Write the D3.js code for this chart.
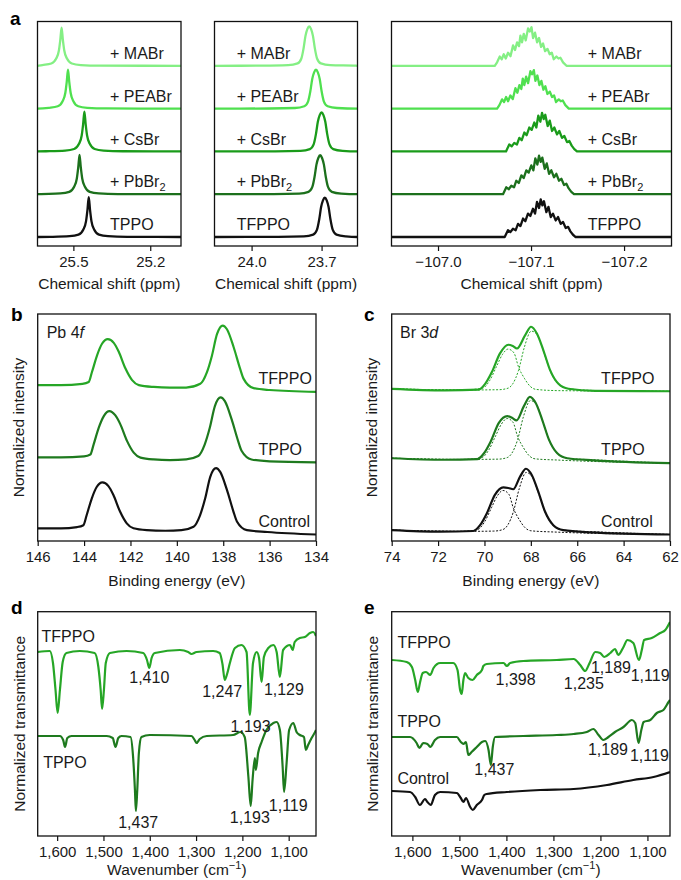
<!DOCTYPE html>
<html>
<head>
<meta charset="utf-8">
<script src="https://cdn.jsdelivr.net/npm/d3@7"></script>
<style>
  body { margin: 0; background: #fff; }
  svg { display: block; }
</style>
</head>
<body>
<script>
// ---------------- data ----------------

// panel a - NMR, traces listed bottom -> top
const aLabelsP = ["TPPO", "+ PbBr2", "+ CsBr", "+ PEABr", "+ MABr"];
const aLabelsF = ["TFPPO", "+ PbBr2", "+ CsBr", "+ PEABr", "+ MABr"];
const aColors = ["#111111", "#1c701c", "#1a9b1a", "#4fe04f", "#84ef84"];

const pShift = [25.440, 25.476, 25.457, 25.521, 25.546];
const pHeight = [0.93, 0.92, 0.93, 0.91, 0.89];
const fShift = [23.686, 23.706, 23.700, 23.724, 23.753];
const fHeight = [0.92, 0.91, 0.91, 0.91, 0.92];
const fluorShift = [-107.1104, -107.1086, -107.1118, -107.1022, -107.0997];
const fluorHeight = [0.88, 0.90, 0.90, 0.90, 0.90];
const fluorPattern = ["B", "B", "B", "A", "A"];

// line shapes: [offset (ppm), relative intensity]
const pLine = [[0.15, 0.004], [0.075, 0.02], [0.04, 0.06], [0.021, 0.19], [0.0105, 0.4], [0.005, 0.68], [0, 1],
  [-0.005, 0.68], [-0.0105, 0.4], [-0.021, 0.19], [-0.04, 0.06], [-0.075, 0.02], [-0.15, 0.004]];
const fLine = [[0.2, 0.003], [0.09, 0.015], [0.05, 0.06], [0.034, 0.18], [0.024, 0.45], [0.016, 0.76], [0.008, 0.93], [0, 1],
  [-0.008, 0.93], [-0.016, 0.76], [-0.024, 0.45], [-0.034, 0.18], [-0.05, 0.06], [-0.09, 0.015], [-0.2, 0.003]];
const multA = [[0.0387, 0], [0.0362, 0.09], [0.0333, 0.24], [0.0312, 0.17], [0.0290, 0.30], [0.0269, 0.19], [0.0244, 0.34],
  [0.0218, 0.25], [0.0190, 0.53], [0.0169, 0.41], [0.0147, 0.61], [0.0126, 0.51], [0.0111, 0.78], [0.0094, 0.61],
  [0.0075, 0.83], [0.0054, 0.66], [0.0029, 0.97], [0.0011, 0.89], [-0.0008, 1.0], [-0.0025, 0.72], [-0.0046, 0.86],
  [-0.0068, 0.61], [-0.0089, 0.72], [-0.0111, 0.49], [-0.0132, 0.58], [-0.0154, 0.38], [-0.0180, 0.44], [-0.0204, 0.30],
  [-0.0226, 0.34], [-0.0247, 0.17], [-0.0276, 0.24], [-0.0298, 0.19], [-0.0319, 0.21], [-0.0347, 0.09], [-0.0384, 0]];
const multB = [[0.0387, 0], [0.0352, 0.18], [0.0326, 0.13], [0.0298, 0.22], [0.0269, 0.18], [0.0244, 0.35], [0.0218, 0.29],
  [0.0190, 0.49], [0.0165, 0.42], [0.0137, 0.62], [0.0111, 0.56], [0.0083, 0.75], [0.0061, 0.62], [0.0040, 0.93],
  [0.0018, 0.77], [0, 1], [-0.0018, 0.84], [-0.0035, 0.95], [-0.0061, 0.66], [-0.0083, 0.80], [-0.0108, 0.53],
  [-0.0132, 0.62], [-0.0161, 0.44], [-0.0186, 0.53], [-0.0215, 0.35], [-0.0240, 0.40], [-0.0269, 0.24], [-0.0294, 0.27],
  [-0.0319, 0.15], [-0.0347, 0.06], [-0.0376, 0]];

// panel b - Pb 4f XPS [eV, normalized intensity + offset]
const pbControl = [[146, 0.06], [145, 0.06], [144.3, 0.08], [144.03, 0.11], [143.89, 0.27], [143.67, 0.54], [143.45, 0.73],
  [143.21, 0.80], [142.95, 0.74], [142.74, 0.60], [142.45, 0.33], [142.16, 0.14], [141.87, 0.06], [141.3, 0.03],
  [140.5, 0.02], [139.8, 0.03], [139.28, 0.085], [139.0, 0.27], [138.78, 0.54], [138.56, 0.89], [138.31, 1.03],
  [138.13, 0.97], [137.84, 0.68], [137.56, 0.33], [137.41, 0.17], [136.98, 0.03], [136.1, 0.0], [134, -0.04]];
const pbTPPO = [[146, 1.205], [145, 1.205], [144.0, 1.22], [143.73, 1.25], [143.59, 1.41], [143.37, 1.68], [143.15, 1.87],
  [142.91, 1.95], [142.65, 1.88], [142.44, 1.74], [142.15, 1.47], [141.86, 1.28], [141.57, 1.2], [141, 1.17],
  [140.3, 1.16], [139.6, 1.17], [139.08, 1.225], [138.8, 1.41], [138.58, 1.68], [138.36, 2.03], [138.11, 2.17],
  [137.93, 2.11], [137.64, 1.82], [137.36, 1.47], [137.21, 1.31], [136.78, 1.17], [136, 1.14], [134, 1.124]];
const pbTFPPO = [[146, 2.37], [145, 2.37], [144.07, 2.39], [143.8, 2.42], [143.66, 2.58], [143.44, 2.85], [143.22, 3.04],
  [142.98, 3.11], [142.72, 3.05], [142.51, 2.91], [142.22, 2.64], [141.93, 2.45], [141.64, 2.37], [141, 2.34],
  [140.3, 2.33], [139.6, 2.33], [138.99, 2.39], [138.71, 2.57], [138.49, 2.84], [138.27, 3.19], [138.02, 3.33],
  [137.84, 3.27], [137.55, 2.98], [137.27, 2.63], [137.12, 2.47], [136.69, 2.32], [136, 2.29], [134, 2.26]];

// panel c - Br 3d XPS, measured curve and the two fitted components
const brControl = [[74, 0.03], [71.92, 0.005], [70.48, 0.016], [70.19, 0.11], [69.9, 0.3], [69.55, 0.6], [69.19, 0.72],
  [68.97, 0.71], [68.76, 0.69], [68.47, 0.89], [68.21, 1.02], [67.96, 0.92], [67.68, 0.65], [67.39, 0.33],
  [67.03, 0.11], [66.6, 0.03], [65.45, -0.005], [62, -0.04]];
const brControlFit1 = [[74, 0.03], [71, 0.01], [70.3, 0.04], [70.0, 0.16], [69.7, 0.39], [69.45, 0.58], [69.2, 0.67],
  [68.95, 0.61], [68.75, 0.38], [68.5, 0.2], [68.25, 0.07], [68.0, 0.02], [67, 0.0], [62, -0.04]];
const brControlFit2 = [[74, 0.03], [71, 0.01], [69.6, 0.015], [69.2, 0.04], [69.0, 0.11], [68.75, 0.33], [68.5, 0.7],
  [68.2, 0.96], [67.96, 0.9], [67.68, 0.64], [67.39, 0.32], [67.03, 0.1], [66.6, 0.03], [65, 0.0], [62, -0.04]];
const brTPPO = [[74, 1.19], [71.75, 1.165], [70.31, 1.175], [70.02, 1.27], [69.73, 1.46], [69.38, 1.76], [69.02, 1.87],
  [68.8, 1.84], [68.62, 1.8], [68.3, 2.03], [68.04, 2.18], [67.79, 2.08], [67.51, 1.81], [67.22, 1.49],
  [66.86, 1.27], [66.43, 1.19], [65.28, 1.155], [62, 1.11]];
const brTPPOFit1 = [[74, 1.19], [71, 1.17], [70.12, 1.2], [69.82, 1.32], [69.52, 1.55], [69.27, 1.74], [69.02, 1.83],
  [68.77, 1.77], [68.57, 1.54], [68.32, 1.36], [68.07, 1.23], [67.82, 1.18], [66.8, 1.16], [62, 1.11]];
const brTPPOFit2 = [[74, 1.19], [71, 1.17], [69.42, 1.175], [69.02, 1.2], [68.82, 1.27], [68.57, 1.49], [68.32, 1.86],
  [68.02, 2.12], [67.78, 2.07], [67.5, 1.8], [67.21, 1.48], [66.85, 1.26], [66.42, 1.19], [65, 1.16], [62, 1.11]];
const brTFPPO = [[74, 2.31], [71.7, 2.285], [70.26, 2.296], [69.97, 2.39], [69.68, 2.58], [69.33, 2.88], [68.97, 3.02],
  [68.78, 3.0], [68.6, 2.96], [68.25, 3.17], [67.99, 3.31], [67.74, 3.2], [67.46, 2.93], [67.17, 2.61],
  [66.81, 2.39], [66.38, 2.31], [65.23, 2.275], [62, 2.27]];
const brTFPPOFit1 = [[74, 2.31], [71, 2.29], [70.08, 2.32], [69.78, 2.44], [69.48, 2.67], [69.23, 2.86], [68.98, 2.95],
  [68.73, 2.89], [68.53, 2.66], [68.28, 2.48], [68.03, 2.35], [67.78, 2.3], [66.8, 2.28], [62, 2.27]];
const brTFPPOFit2 = [[74, 2.31], [71, 2.29], [69.38, 2.295], [68.98, 2.32], [68.78, 2.39], [68.53, 2.61], [68.28, 2.98],
  [67.98, 3.24], [67.74, 3.19], [67.46, 2.92], [67.17, 2.6], [66.81, 2.38], [66.38, 2.31], [65, 2.28], [62, 2.27]];

// panel d - FTIR of the pure additives [wavenumber, transmittance + offset]
const irTFPPO = [[1642, 1.84], [1616, 1.85], [1609, 1.73], [1603.5, 1.46], [1599, 1.23], [1594, 1.46], [1588, 1.74],
  [1580, 1.83], [1551, 1.85], [1519, 1.83], [1511, 1.69], [1506, 1.46], [1503, 1.27], [1499, 1.46], [1495, 1.73],
  [1486, 1.83], [1450, 1.85], [1414, 1.83], [1406, 1.76], [1401, 1.68], [1396, 1.78], [1389, 1.83], [1335, 1.86],
  [1317, 1.84], [1310, 1.82], [1299, 1.84], [1263, 1.85], [1249, 1.83], [1243, 1.72], [1238, 1.56], [1233, 1.62],
  [1227, 1.73], [1216, 1.88], [1202, 1.91], [1191, 1.84], [1184, 1.21], [1177, 1.73], [1169, 1.84], [1164, 1.78],
  [1158.5, 1.54], [1153.5, 1.79], [1144, 1.88], [1133, 1.91], [1126, 1.84], [1119, 1.59], [1112, 1.86], [1097, 1.91],
  [1091.5, 1.86], [1087, 1.94], [1076, 1.98], [1065, 1.99], [1054, 2.03], [1047, 2.04], [1041, 2.0]];
const irTPPO = [[1642, 1.0], [1594, 1.0], [1587, 0.96], [1583, 0.89], [1578, 0.98], [1569, 1.0], [1493, 1.0], [1480, 0.98],
  [1474, 0.89], [1468, 0.98], [1461, 1.0], [1441.5, 0.99], [1436, 0.79], [1432, 0.46], [1430, 0.25], [1427, 0.46],
  [1423.5, 0.83], [1418, 0.99], [1400, 1.01], [1310, 1.0], [1303, 0.96], [1299, 0.93], [1292, 0.97], [1277, 1.0],
  [1220, 1.01], [1204, 1.04], [1195, 0.99], [1187, 0.59], [1182, 0.30], [1178, 0.56], [1173, 0.78], [1171, 0.66],
  [1166, 0.83], [1158.5, 0.94], [1148, 1.06], [1133, 1.13], [1126, 1.14], [1119, 1.06], [1113, 0.69], [1110, 0.44],
  [1104.5, 0.73], [1099, 1.06], [1090, 1.13], [1083, 1.04], [1076, 1.01], [1067, 0.99], [1063, 0.86], [1058, 0.91],
  [1050.5, 0.98], [1043, 1.04], [1041, 1.06]];

// panel e - FTIR of the perovskite films
const filmTFPPO = [[1644, 1.76], [1612, 1.74], [1601, 1.69], [1594, 1.56], [1588.5, 1.44], [1584, 1.53], [1578, 1.63],
  [1571, 1.64], [1562, 1.61], [1555, 1.68], [1541, 1.73], [1513, 1.73], [1504, 1.66], [1498.5, 1.46], [1495, 1.42],
  [1491.5, 1.56], [1488, 1.63], [1481, 1.58], [1472, 1.56], [1463, 1.61], [1452, 1.66], [1449, 1.70], [1442, 1.72],
  [1406, 1.73], [1399, 1.70], [1392, 1.73], [1364, 1.75], [1293, 1.76], [1257, 1.77], [1243, 1.71], [1232.5, 1.65],
  [1223, 1.73], [1211, 1.84], [1200.6, 1.83], [1192, 1.79], [1179, 1.83], [1169, 1.87], [1162, 1.81], [1152, 1.88],
  [1142.5, 1.96], [1130, 1.93], [1118, 1.76], [1112, 1.86], [1107, 1.96], [1091, 1.98], [1073, 2.03], [1062, 2.06],
  [1052, 2.14]];
const filmTPPO = [[1644, 0.99], [1605, 0.99], [1591, 0.93], [1585, 0.88], [1577, 0.93], [1568, 0.92], [1562, 0.89],
  [1552, 0.96], [1541, 0.99], [1505.5, 0.99], [1497, 0.94], [1491.5, 0.92], [1486, 0.94], [1481, 0.81], [1474, 0.84],
  [1463, 0.89], [1452, 0.94], [1445, 0.95], [1438, 0.86], [1433, 0.71], [1429, 0.89], [1424, 0.99], [1364, 1.0],
  [1293, 1.01], [1257, 1.02], [1229, 1.04], [1215, 1.07], [1204, 1.01], [1194, 0.96], [1183, 0.99], [1169, 1.04],
  [1151, 1.09], [1133, 1.16], [1126, 1.13], [1119, 0.93], [1113, 1.06], [1108, 1.14], [1094, 1.16], [1080, 1.23],
  [1066, 1.26], [1055, 1.34], [1052, 1.36]];
const filmControl = [[1644, 0.45], [1605, 0.44], [1594, 0.39], [1584, 0.31], [1573, 0.37], [1568, 0.34], [1561, 0.31],
  [1552, 0.41], [1541, 0.44], [1505.5, 0.43], [1497, 0.38], [1491.5, 0.34], [1486, 0.38], [1477, 0.29], [1471.5, 0.26],
  [1463, 0.31], [1452, 0.36], [1447, 0.41], [1442, 0.42], [1399, 0.44], [1328, 0.46], [1257, 0.47], [1186, 0.51],
  [1130, 0.56], [1087, 0.59], [1052, 0.64]];

// text annotations [text, x (data), y (data)]
const bLabels = [["Control", 136.48, 0.085], ["TPPO", 136.48, 1.242], ["TFPPO", 136.48, 2.382]];
const cLabels = [["Control", 64.97, 0.085], ["TPPO", 64.97, 1.242], ["TFPPO", 64.97, 2.382]];
const dLabels = [["TFPPO", 1633.7, 1.943], ["TPPO", 1630.2, 0.677]];
const dPeaks = [["1,410", 1401, 1.527], ["1,247", 1243.6, 1.393], ["1,129", 1110.3, 1.41], ["1,193", 1182.3, 1.043],
  ["1,437", 1425, 0.08], ["1,193", 1183.8, 0.127], ["1,119", 1101, 0.253]];
const eLabels = [["TFPPO", 1631.9, 1.877], ["TPPO", 1631.9, 1.087], ["Control", 1631.9, 0.52]];
const ePeaks = [["1,398", 1380.4, 1.51], ["1,235", 1235.3, 1.467], ["1,189", 1177.6, 1.633], ["1,119", 1094.2, 1.55],
  ["1,189", 1184, 0.81], ["1,119", 1095.9, 0.753], ["1,437", 1425.7, 0.61]];

const C_TFPPO = "#26a626", C_TPPO = "#1e7a1e", C_CTRL = "#111111";

// ---------------- drawing ----------------
const FONT = '"Liberation Sans", Arial, Helvetica, sans-serif';
const TXT = "#1a1a1a";
const svg = d3.select("body").append("svg")
    .attr("width", 681).attr("height", 880)
    .style("font-family", FONT);

let clipCount = 0;

function makePanel(box) {
    const id = "clip" + (clipCount++);
    svg.append("clipPath").attr("id", id).append("rect")
        .attr("x", box.left).attr("y", box.top)
        .attr("width", box.right - box.left).attr("height", box.bottom - box.top);
    return svg.append("g").attr("clip-path", `url(#${id})`);
}

function drawFrame(box) {
    svg.append("rect")
        .attr("x", box.left).attr("y", box.top)
        .attr("width", box.right - box.left).attr("height", box.bottom - box.top)
        .attr("fill", "none").attr("stroke", "#111").attr("stroke-width", 1.3);
}

function drawTrace(g, x, y, pts, color, opts = {}) {
    const sorted = pts.slice().sort((a, b) => x(a[0]) - x(b[0]));
    const line = d3.line()
        .x(d => x(d[0]))
        .y(d => y(d[1]))
        .curve(opts.curve || d3.curveMonotoneX);
    g.append("path").datum(sorted)
        .attr("d", line)
        .attr("fill", "none")
        .attr("stroke", color)
        .attr("stroke-width", opts.width || 2.2)
        .attr("stroke-linejoin", "round")
        .attr("stroke-dasharray", opts.dash || null);
}

// titleGap = distance from the frame bottom to the title baseline
function bottomAxis(x, box, ticks, fmt, title, titleGap = 45) {
    const g = svg.append("g")
        .attr("transform", `translate(0,${box.bottom})`)
        .call(d3.axisBottom(x).tickValues(ticks).tickFormat(fmt).tickSize(5).tickPadding(5));
    g.attr("font-size", 15).attr("font-family", FONT);
    g.select(".domain").remove();
    g.selectAll(".tick line").attr("stroke", "#111").attr("stroke-width", 1.2);
    g.selectAll(".tick text").attr("fill", TXT);

    const t = svg.append("text")
        .attr("x", (box.left + box.right) / 2)
        .attr("y", box.bottom + titleGap)
        .attr("text-anchor", "middle")
        .attr("font-size", 15.5)
        .attr("fill", TXT);
    if (title === "wavenumber") {
        t.text("Wavenumber (cm");
        t.append("tspan").attr("dy", -6).attr("font-size", 11).text("\u22121");
        t.append("tspan").attr("dy", 6).text(")");
    } else {
        t.text(title);
    }
}

function yTitle(xBase, box, title) {
    svg.append("text")
        .attr("transform", `translate(${xBase},${(box.top + box.bottom) / 2}) rotate(-90)`)
        .attr("text-anchor", "middle")
        .attr("font-size", 15.5)
        .attr("fill", TXT)
        .text(title);
}

function letter(ch, xPos, yPos) {
    svg.append("text").attr("x", xPos).attr("y", yPos)
        .attr("font-size", 19).attr("font-weight", "bold").attr("fill", "#000")
        .text(ch);
}

function putLabel(x, y, d, anchor) {
    const t = svg.append("text")
        .attr("x", x(d[1])).attr("y", y(d[2]))
        .attr("text-anchor", anchor || "start")
        .attr("font-size", 16).attr("fill", TXT);
    if (d[0].endsWith("PbBr2")) {
        t.text(d[0].slice(0, -1));
        t.append("tspan").attr("dy", 4).attr("font-size", 11).text("2");
    } else {
        t.text(d[0]);
    }
}

// ---- panel a ----
const aTop = 21.5, aBottom = 246;
const aY = d3.scaleLinear().domain([-0.21, 5.035]).range([aBottom, aTop]);
const aSubs = [
    { left: 37.5, right: 181, domain: [25.64, 25.08], ticks: [25.5, 25.2], fmt: d3.format(".1f"),
      shifts: pShift, heights: pHeight, labels: aLabelsP, labelX: 25.357, shape: () => pLine, curve: d3.curveMonotoneX },
    { left: 214.5, right: 357.5, domain: [24.159, 23.546], ticks: [24.0, 23.7], fmt: d3.format(".1f"),
      shifts: fShift, heights: fHeight, labels: aLabelsF, labelX: 24.064, shape: () => fLine, curve: d3.curveMonotoneX },
    { left: 391.5, right: 671.5, domain: [-106.95, -107.251], ticks: [-107.0, -107.1, -107.2], fmt: d3.format(".1f"),
      shifts: fluorShift, heights: fluorHeight, labels: aLabelsF, labelX: -107.161,
      shape: i => (fluorPattern[i] === "A" ? multA : multB), curve: d3.curveLinear }
];

aSubs.forEach(s => {
    const box = { left: s.left, right: s.right, top: aTop, bottom: aBottom };
    const x = d3.scaleLinear().domain(s.domain).range([s.left, s.right]);
    const g = makePanel(box);
    s.shifts.forEach((c, i) => {
        const pts = [[s.domain[0], i], [s.domain[1], i]]
            .concat(s.shape(i).map(([dx, r]) => [c + dx, i + s.heights[i] * r]));
        drawTrace(g, x, aY, pts, aColors[i], { curve: s.curve, width: 2.3 });
        putLabel(x, aY, [s.labels[i], s.labelX, i + 0.16]);
    });
    drawFrame(box);
    bottomAxis(x, box, s.ticks, s.fmt, "Chemical shift (ppm)", 43);
});
letter("a", 10, 25);

// ---- panel b ----
const bBox = { left: 37.7, right: 316, top: 314, bottom: 541 };
const bX = d3.scaleLinear().domain([146, 134]).range([bBox.left, bBox.right]);
const xpsY = d3.scaleLinear().domain([-0.145, 3.516]).range([541, 314]);
{
    const g = makePanel(bBox);
    drawTrace(g, bX, xpsY, pbControl, C_CTRL);
    drawTrace(g, bX, xpsY, pbTPPO, C_TPPO);
    drawTrace(g, bX, xpsY, pbTFPPO, C_TFPPO);
    drawFrame(bBox);
    bottomAxis(bX, bBox, d3.range(146, 133, -2), d3.format("d"), "Binding energy (eV)");
    yTitle(24, bBox, "Normalized intensity");
    bLabels.forEach(d => putLabel(bX, xpsY, d));
    const t = svg.append("text").attr("x", 46.7).attr("y", 338.3).attr("font-size", 16).attr("fill", TXT).text("Pb 4");
    t.append("tspan").attr("font-style", "italic").text("f");
    letter("b", 11, 321);
}

// ---- panel c ----
const cBox = { left: 391.7, right: 670, top: 314, bottom: 541 };
const cX = d3.scaleLinear().domain([74, 62]).range([cBox.left, cBox.right]);
{
    const g = makePanel(cBox);
    const fits = [[brControlFit1, C_CTRL], [brControlFit2, C_CTRL], [brTPPOFit1, C_TPPO], [brTPPOFit2, C_TPPO],
        [brTFPPOFit1, C_TFPPO], [brTFPPOFit2, C_TFPPO]];
    fits.forEach(([pts, col]) => drawTrace(g, cX, xpsY, pts, col, { width: 1, dash: "2,1.6" }));
    drawTrace(g, cX, xpsY, brControl, C_CTRL);
    drawTrace(g, cX, xpsY, brTPPO, C_TPPO);
    drawTrace(g, cX, xpsY, brTFPPO, C_TFPPO);
    drawFrame(cBox);
    bottomAxis(cX, cBox, d3.range(74, 61, -2), d3.format("d"), "Binding energy (eV)");
    yTitle(377, cBox, "Normalized intensity");
    cLabels.forEach(d => putLabel(cX, xpsY, d));
    const t = svg.append("text").attr("x", 400).attr("y", 338.3).attr("font-size", 16).attr("fill", TXT).text("Br 3");
    t.append("tspan").attr("font-style", "italic").text("d");
    letter("c", 364, 321);
}

// ---- panel d ----
const irY = d3.scaleLinear().domain([0, 2.243]).range([836, 611.7]);
const dBox = { left: 37.7, right: 316, top: 611.7, bottom: 836 };
const dX = d3.scaleLinear().domain([1642, 1041]).range([dBox.left, dBox.right]);
{
    const g = makePanel(dBox);
    drawTrace(g, dX, irY, irTPPO, C_TPPO);
    drawTrace(g, dX, irY, irTFPPO, C_TFPPO);
    drawFrame(dBox);
    bottomAxis(dX, dBox, d3.range(1600, 1099, -100), d3.format(","), "wavenumber", 39);
    yTitle(25, dBox, "Normalized transmittance");
    dLabels.forEach(d => putLabel(dX, irY, d));
    dPeaks.forEach(d => putLabel(dX, irY, d, "middle"));
    letter("d", 11, 613.5);
}

// ---- panel e ----
const eBox = { left: 391.7, right: 670, top: 611.7, bottom: 836 };
const eX = d3.scaleLinear().domain([1644, 1052]).range([eBox.left, eBox.right]);
{
    const g = makePanel(eBox);
    drawTrace(g, eX, irY, filmControl, C_CTRL);
    drawTrace(g, eX, irY, filmTPPO, C_TPPO);
    drawTrace(g, eX, irY, filmTFPPO, C_TFPPO);
    drawFrame(eBox);
    bottomAxis(eX, eBox, d3.range(1600, 1099, -100), d3.format(","), "wavenumber", 39);
    yTitle(378, eBox, "Normalized transmittance");
    eLabels.forEach(d => putLabel(eX, irY, d));
    ePeaks.forEach(d => putLabel(eX, irY, d, "middle"));
    letter("e", 364, 614);
}
</script>
</body>
</html>
